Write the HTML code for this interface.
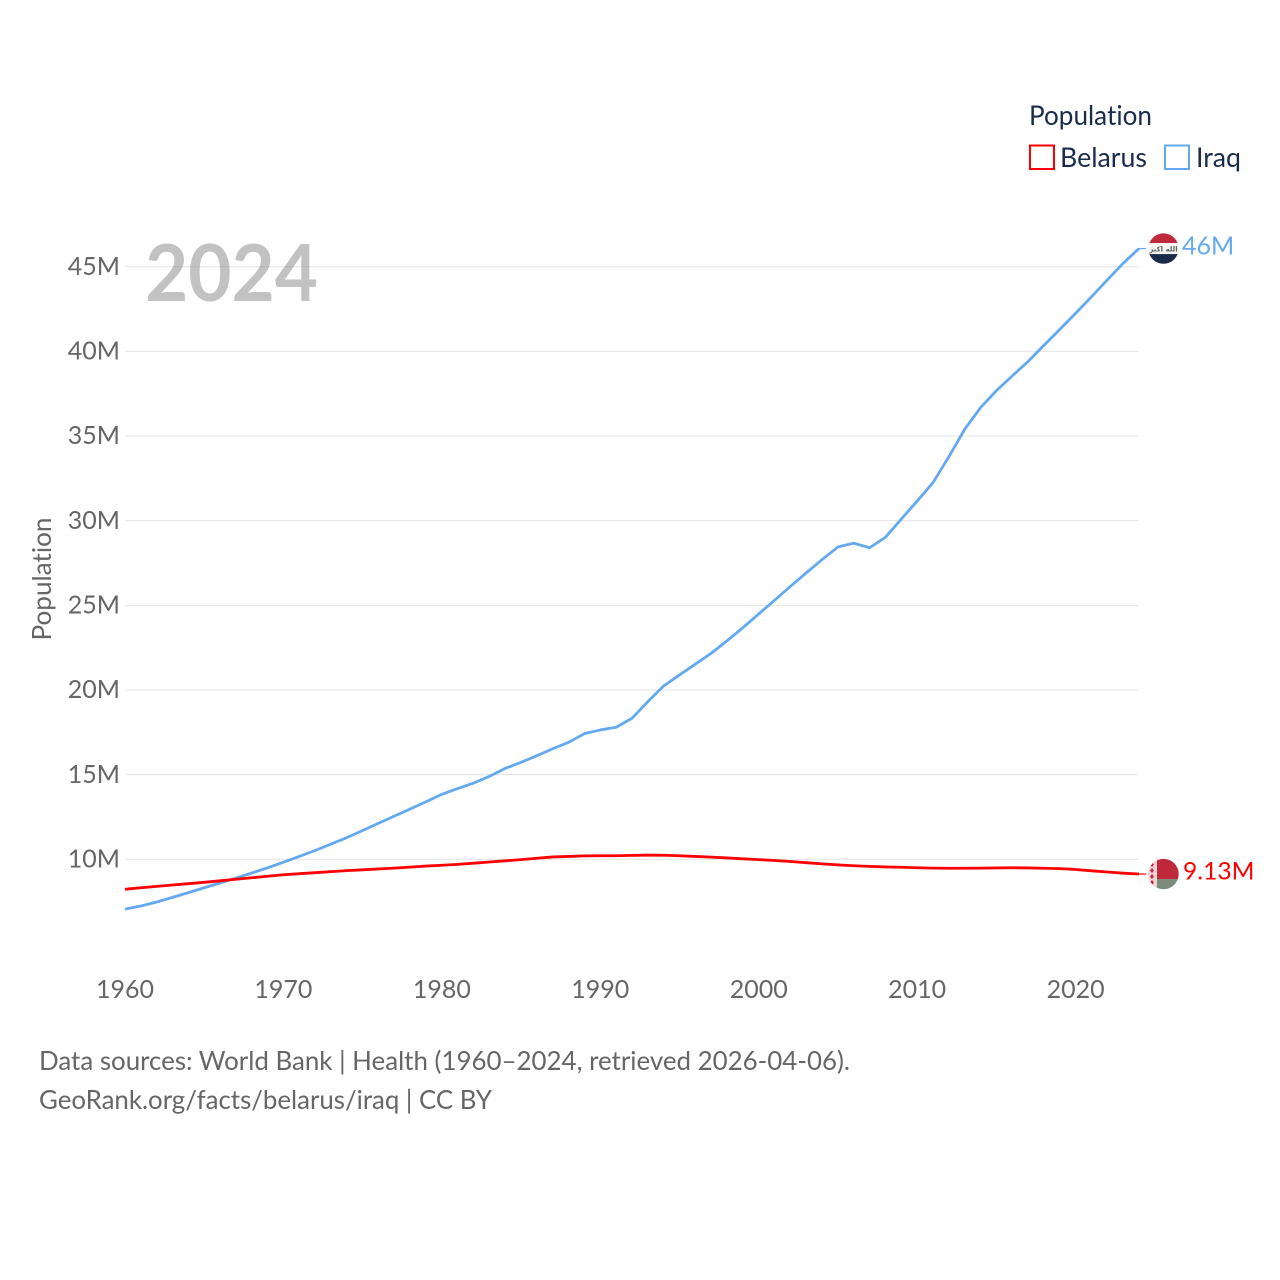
<!DOCTYPE html>
<html lang="en">
<head>
<meta charset="utf-8">
<title>Population: Belarus and Iraq</title>
<style>
html,body{margin:0;padding:0;background:#fff;}
svg{display:block;}
text{font-family:"Lato","Carlito","Liberation Sans",sans-serif;font-variant-ligatures:none;}
</style>
</head>
<body>
<svg id="chart" xmlns="http://www.w3.org/2000/svg" width="1280" height="1280" viewBox="0 0 1280 1280">
  <rect x="0" y="0" width="1280" height="1280" fill="#ffffff"/>
  <g id="grid"></g>
  <text x="145" y="301" font-size="79" font-weight="700" fill="#858585" fill-opacity="0.5" textLength="173" lengthAdjust="spacingAndGlyphs">2024</text>
  <g id="y-axis"></g>
  <g id="x-axis"></g>
  <text transform="translate(51,579) rotate(-90)" text-anchor="middle" font-size="26" fill="#666666" textLength="123" lengthAdjust="spacingAndGlyphs">Population</text>
  <g id="series"></g>
  <g id="ends"></g>
  <g>
    <text x="1029" y="125" font-size="27" fill="#1b2c4a" textLength="123" lengthAdjust="spacingAndGlyphs">Population</text>
    <g>
      <rect x="1030" y="145.5" width="24" height="23.5" fill="none" stroke="#ff0000" stroke-width="2"/>
      <text x="1060" y="167" font-size="27" fill="#1b2c4a" textLength="87" lengthAdjust="spacingAndGlyphs">Belarus</text>
    </g>
    <g>
      <rect x="1165" y="145.5" width="24" height="23.5" fill="none" stroke="#64a9ef" stroke-width="2"/>
      <text x="1196" y="167" font-size="27" fill="#1b2c4a" textLength="45" lengthAdjust="spacingAndGlyphs">Iraq</text>
    </g>
  </g>
  <g>
    <text x="39" y="1070" font-size="26" fill="#666666" textLength="811" lengthAdjust="spacingAndGlyphs">Data sources: World Bank | Health (1960–2024, retrieved 2026-04-06).</text>
    <text x="39" y="1109" font-size="26" fill="#666666" textLength="453" lengthAdjust="spacingAndGlyphs">GeoRank.org/facts/belarus/iraq | CC BY</text>
  </g>
</svg>
<script>
const years = [1960,1961,1962,1963,1964,1965,1966,1967,1968,1969,1970,1971,1972,1973,1974,1975,1976,1977,1978,1979,1980,1981,1982,1983,1984,1985,1986,1987,1988,1989,1990,1991,1992,1993,1994,1995,1996,1997,1998,1999,2000,2001,2002,2003,2004,2005,2006,2007,2008,2009,2010,2011,2012,2013,2014,2015,2016,2017,2018,2019,2020,2021,2022,2023,2024];
const belarusValues = [8.23,8.32,8.40,8.48,8.56,8.64,8.73,8.82,8.91,9.00,9.09,9.15,9.21,9.27,9.33,9.38,9.43,9.48,9.54,9.60,9.65,9.70,9.77,9.84,9.91,9.98,10.06,10.14,10.17,10.20,10.21,10.21,10.23,10.25,10.24,10.21,10.17,10.13,10.08,10.03,9.98,9.93,9.87,9.80,9.73,9.67,9.62,9.58,9.55,9.53,9.50,9.48,9.47,9.47,9.48,9.49,9.50,9.49,9.47,9.45,9.40,9.32,9.25,9.18,9.13];
const iraqValues = [7.06,7.24,7.48,7.75,8.03,8.32,8.60,8.89,9.19,9.50,9.83,10.17,10.52,10.90,11.28,11.70,12.13,12.55,12.97,13.40,13.84,14.18,14.50,14.90,15.37,15.73,16.12,16.53,16.91,17.42,17.64,17.80,18.33,19.31,20.24,20.89,21.53,22.17,22.91,23.68,24.49,25.30,26.12,26.92,27.70,28.45,28.67,28.40,29.02,30.10,31.16,32.25,33.78,35.40,36.68,37.68,38.55,39.40,40.36,41.30,42.25,43.22,44.22,45.20,46.07];
const yTicks = [10,15,20,25,30,35,40,45];
const yTickLabels = ["10M","15M","20M","25M","30M","35M","40M","45M"];
const xTicks = [1960,1970,1980,1990,2000,2010,2020];
const xTickLabels = ["1960","1970","1980","1990","2000","2010","2020"];
const endLabels = ["9.13M","46M"];

const SVG_NS = "http://www.w3.org/2000/svg";
const xScale = function (year) { return 125 + (year - 1960) * (1139 - 125) / 64; };
const yScale = function (value) { return 859.3 - (value - 10) * (859.3 - 266.7) / 35; };
const gridLayer = document.getElementById("grid");
const yAxisLayer = document.getElementById("y-axis");
const xAxisLayer = document.getElementById("x-axis");
const seriesLayer = document.getElementById("series");
const endsLayer = document.getElementById("ends");

function make(tag, attrs, parent, content) {
  const el = document.createElementNS(SVG_NS, tag);
  Object.keys(attrs).forEach(function (key) { el.setAttribute(key, attrs[key]); });
  if (content !== undefined) { el.textContent = content; }
  parent.appendChild(el);
  return el;
}

yTicks.forEach(function (tick, i) {
  const line = make("line", {x1: 125, x2: 1138, y1: yScale(tick), y2: yScale(tick), stroke: "#e3e3e3", "stroke-width": 1}, gridLayer);
  
  
  const label = make("text", {x: 120, y: yScale(tick) + 8.2, "text-anchor": "end", "font-size": 25, fill: "#666666"}, yAxisLayer, yTickLabels[i]);
  
  
});

xTicks.forEach(function (tick, i) {
  const label = make("text", {x: xScale(tick), y: 998, "text-anchor": "middle", "font-size": 25, fill: "#666666"}, xAxisLayer, xTickLabels[i]);
  
  
});

function linePath(values) {
  return values.map(function (value, i) {
    return (i === 0 ? "M" : "L") + xScale(years[i]).toFixed(2) + " " + yScale(value).toFixed(2);
  }).join(" ");
}

const iraqLine = make("path", {d: linePath(iraqValues), fill: "none", stroke: "#64a9ef", "stroke-width": 2.8, "stroke-linejoin": "round"}, seriesLayer);


const belarusLine = make("path", {d: linePath(belarusValues), fill: "none", stroke: "#ff0000", "stroke-width": 2.8, "stroke-linejoin": "round"}, seriesLayer);



const lastYear = years[years.length - 1];
const iraqLast = iraqValues[iraqValues.length - 1];
const belarusLast = belarusValues[belarusValues.length - 1];

const iraqConnector = make("line", {x1: xScale(lastYear), x2: xScale(lastYear) + 7, y1: yScale(iraqLast), y2: yScale(iraqLast), stroke: "#64a9ef", "stroke-width": 1.2}, endsLayer);


const belarusConnector = make("line", {x1: xScale(lastYear), x2: xScale(lastYear) + 7, y1: yScale(belarusLast), y2: yScale(belarusLast), stroke: "#ff0000", "stroke-width": 1.2}, endsLayer);



const flagX = xScale(lastYear) + 24.5;
const clipDefs = make("defs", {}, endsLayer);
const iraqClip = make("clipPath", {id: "iraq-clip"}, clipDefs);
make("circle", {cx: 0, cy: 0, r: 15.2}, iraqClip);
const belarusClip = make("clipPath", {id: "belarus-clip"}, clipDefs);
make("circle", {cx: 0, cy: 0, r: 15.2}, belarusClip);

const iraqFlag = make("g", {transform: "translate(" + flagX + "," + yScale(iraqLast) + ")", "clip-path": "url(#iraq-clip)"}, endsLayer);


make("rect", {x: -16, y: -16, width: 32, height: 10.5, fill: "#c0293c"}, iraqFlag);
make("rect", {x: -16, y: -5.5, width: 32, height: 11, fill: "#f6f3f3"}, iraqFlag);
make("rect", {x: -16, y: 5.5, width: 32, height: 10.5, fill: "#1a2b4a"}, iraqFlag);
const iraqMotto = make("text", {x: 0, y: 3, "text-anchor": "middle", "font-size": 7, "font-weight": 700, fill: "#5c665c", style: 'font-family:"DejaVu Sans",sans-serif'}, iraqFlag, "الله اكبر");



const belarusFlag = make("g", {transform: "translate(" + flagX + "," + yScale(belarusLast) + ")", "clip-path": "url(#belarus-clip)"}, endsLayer);


make("rect", {x: -16, y: -16, width: 32, height: 21, fill: "#c0293c"}, belarusFlag);
make("rect", {x: -16, y: 5, width: 32, height: 11, fill: "#7b8b7c"}, belarusFlag);
make("rect", {x: -16, y: -16, width: 9.5, height: 32, fill: "#f4d3d6"}, belarusFlag);
make("path", {d: "M-11.5 -12 l2 2.5 l-2 2.5 l-2 -2.5 z M-11.5 -6 l2 2.5 l-2 2.5 l-2 -2.5 z M-11.5 0 l2 2.5 l-2 2.5 l-2 -2.5 z M-11.5 6 l2 2.5 l-2 2.5 l-2 -2.5 z", fill: "#c0293c"}, belarusFlag);

const iraqEnd = make("text", {x: 1182, y: yScale(iraqLast) + 6, "font-size": 25, fill: "#64a9ef"}, endsLayer, endLabels[1]);


const belarusEnd = make("text", {x: 1183, y: yScale(belarusLast) + 5.5, "font-size": 24.6, fill: "#ff0000"}, endsLayer, endLabels[0]);


</script>
</body>
</html>
